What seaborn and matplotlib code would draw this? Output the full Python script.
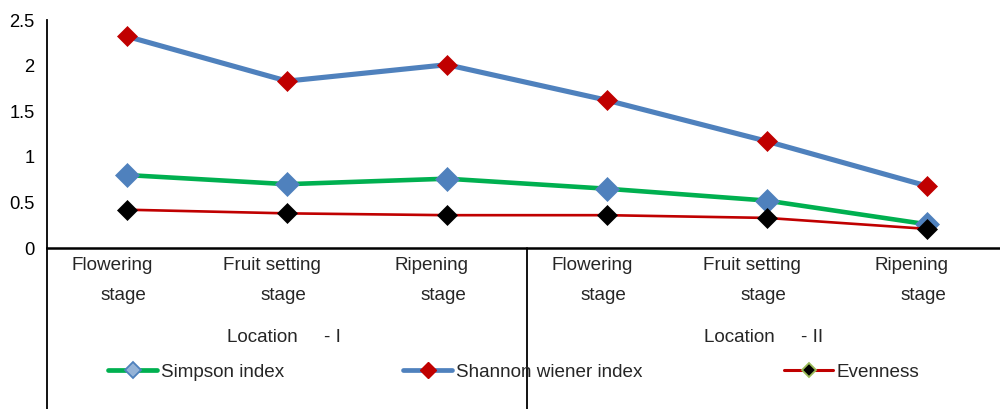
import matplotlib
matplotlib.use("Agg")
import matplotlib.pyplot as plt
from matplotlib.lines import Line2D
from matplotlib import transforms
import numpy as np
import pandas as pd
import seaborn as sns

# Diversity indices across growth stages at two locations
stages = ["Flowering\nstage", "Fruit setting\nstage", "Ripening\nstage",
          "Flowering\nstage", "Fruit setting\nstage", "Ripening\nstage"]
locations = ["Location     - I", "Location     - II"]
simpson = [0.80, 0.70, 0.76, 0.65, 0.52, 0.26]
shannon = [2.32, 1.83, 2.01, 1.62, 1.17, 0.68]
evenness = [0.42, 0.38, 0.36, 0.36, 0.33, 0.21]
yticks = [0, 0.5, 1, 1.5, 2, 2.5]
ytick_labels = ["0", "0.5", "1", "1.5", "2", "2.5"]

sns.set_theme(style="white")
plt.rcParams["font.family"] = ["Liberation Sans", "DejaVu Sans"]
FS = 13.6

df = pd.DataFrame({"pos": np.arange(len(stages)),
                   "Simpson index": simpson,
                   "Shannon wiener index": shannon,
                   "Evenness": evenness})

fig = plt.figure(figsize=(10, 4.09), dpi=100)
ax = fig.add_axes([0.047, 0.3936, 0.96, 0.5575])

GREEN = "#00B050"
BLUE = "#4F81BD"
RED = "#C00000"

sns.lineplot(data=df, x="pos", y="Simpson index", ax=ax, color=GREEN, lw=3.3,
             marker="D", markersize=11.8, markerfacecolor=BLUE,
             markeredgecolor=BLUE, markeredgewidth=0.5, zorder=3)
sns.lineplot(data=df, x="pos", y="Shannon wiener index", ax=ax, color=BLUE, lw=3.7,
             marker="D", markersize=10.5, markerfacecolor=RED,
             markeredgecolor=RED, markeredgewidth=0.5, zorder=3)
sns.lineplot(data=df, x="pos", y="Evenness", ax=ax, color=RED, lw=1.9,
             marker="D", markersize=9.8, markerfacecolor="black",
             markeredgecolor="black", markeredgewidth=0.5, zorder=4)

ax.set_xlim(-0.5, len(stages) - 0.5)
ax.set_ylim(0, 2.5)
ax.set_yticks(yticks)
ax.set_yticklabels(ytick_labels, fontsize=FS - 0.4, color="black")
ax.tick_params(axis="y", length=0, pad=9)
ax.set_xticks([])
ax.set_xlabel("")
ax.set_ylabel("")
for s in ["top", "right"]:
    ax.spines[s].set_visible(False)
ax.spines["left"].set_color("black")
ax.spines["left"].set_linewidth(1.3)
ax.spines["bottom"].set_color("black")
ax.spines["bottom"].set_linewidth(1.8)

# Axis extensions below the plotting area
ax.plot([0, 0], [0, -0.75], transform=ax.transAxes, color="black",
        lw=1.3, clip_on=False)
blend = transforms.blended_transform_factory(ax.transData, fig.transFigure)
mid = (len(stages) - 1) / 2
ax.plot([mid, mid], [0.3936, 0.0], transform=blend, color="black",
        lw=1.3, clip_on=False)

# Category labels, one line at a time
for i, lab in enumerate(stages):
    first, second = lab.split("\n")
    fig.text(i - 0.094, 1 - 266 / 409, first, transform=blend, ha="center",
             va="center", fontsize=FS)
    fig.text(i - 0.025, 1 - 296 / 409, second, transform=blend, ha="center",
             va="center", fontsize=FS)

# Group labels
for g, lab in enumerate(locations):
    fig.text(1 + 3 * g - 0.02, 1 - 337 / 409, lab,
             transform=blend, ha="center", va="center", fontsize=FS)

# Legend entries
handles = [
    (Line2D([], [], color=GREEN, lw=3.4, marker="D", markersize=8,
            markerfacecolor="#95B3D7", markeredgecolor=BLUE, markeredgewidth=1.3),
     "Simpson index", 108),
    (Line2D([], [], color=BLUE, lw=3.4, marker="D", markersize=8,
            markerfacecolor=RED, markeredgecolor=RED),
     "Shannon wiener index", 403),
    (Line2D([], [], color=RED, lw=2.2, marker="D", markersize=7.5,
            markerfacecolor="black", markeredgecolor="#9BBB59", markeredgewidth=1.3),
     "Evenness", 784),
]
for h, lab, xp in handles:
    fig.legend([h], [lab], loc="center left",
               bbox_to_anchor=(xp / 1000, 1 - 372 / 409),
               bbox_transform=fig.transFigure, frameon=False,
               borderpad=0, borderaxespad=0, handlelength=2.6,
               handletextpad=0.2, fontsize=FS)

fig.savefig("out.png", dpi=100)
